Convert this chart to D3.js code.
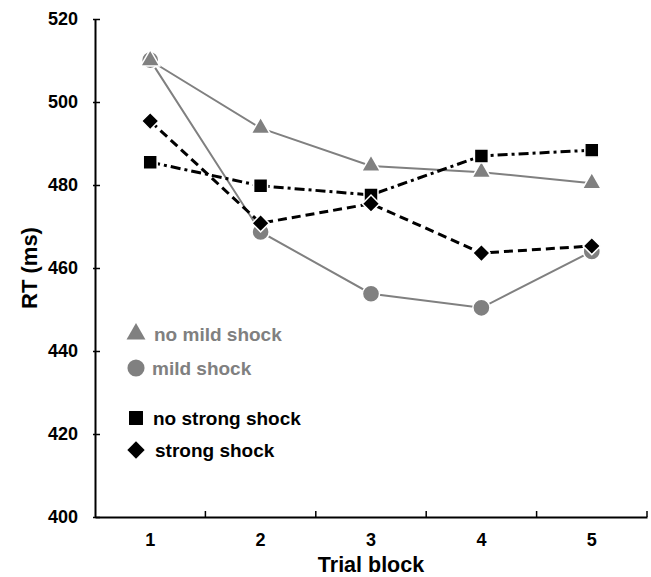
<!DOCTYPE html>
<html>
<head>
<meta charset="utf-8">
<script src="https://cdn.jsdelivr.net/npm/d3@7"></script>
<style>
	body { margin: 0; background: #fff; }
	svg { display: block; font-family: Arial, "Liberation Sans", sans-serif; font-weight: bold; }
</style>
</head>
<body>
<div id="chart"></div>
<script>
const blocks = [1, 2, 3, 4, 5];
const yTicks = [400, 420, 440, 460, 480, 500, 520];

const noMildShock = [510.0, 493.7, 484.6, 483.1, 480.4];
const mildShock = [510.1, 468.7, 453.8, 450.4, 464.0];
const noStrongShock = [485.5, 479.8, 477.6, 487.0, 488.4];
const strongShock = [495.4, 470.8, 475.5, 463.6, 465.3];

const seriesNames = ['no mild shock', 'mild shock', 'no strong shock', 'strong shock'];

const gray = '#808080';

const width = 651, height = 577;
const margin = {left: 95, right: 4, top: 19, bottom: 60};

let svg = d3.select('#chart').append('svg')
	.attr('width', width)
	.attr('height', height);

let xScale = d3.scaleBand()
	.domain(blocks)
	.range([margin.left, width - margin.right])
	.padding(0);

let yScale = d3.scaleLinear()
	.domain([400, 520])
	.range([height - margin.bottom, margin.top]);

// y axis, ticks cross the line
let axisY = svg.append('g')
	.attr('transform', `translate(${margin.left},0)`)
	.call(d3.axisLeft(yScale).tickValues(yTicks).tickSizeInner(3).tickSizeOuter(0).tickPadding(14));
axisY.select('.domain').attr('stroke', '#000').attr('stroke-width', 2);
axisY.selectAll('.tick line').attr('x2', 5).attr('x1', -2).attr('stroke-width', 1.5);
axisY.selectAll('text').style('font-size', '18px').attr('fill', '#000');

// x axis, labels in band centres, ticks on band edges
let axisX = svg.append('g')
	.attr('transform', `translate(0,${yScale(400)})`)
	.call(d3.axisBottom(xScale).tickSize(0).tickPadding(16));
axisX.select('.domain').attr('stroke', '#000').attr('stroke-width', 2);
axisX.selectAll('text').style('font-size', '18px').attr('fill', '#000');
axisX.selectAll('.edge')
	.data(blocks)
	.enter().append('line')
	.attr('class', 'edge')
	.attr('x1', d => xScale(d) + xScale.bandwidth())
	.attr('x2', d => xScale(d) + xScale.bandwidth())
	.attr('y1', 0)
	.attr('y2', -6)
	.attr('stroke', '#000')
	.attr('stroke-width', 1.5);

svg.append('text')
	.attr('transform', `translate(37,${(margin.top + yScale(400)) / 2}) rotate(-90)`)
	.attr('text-anchor', 'middle')
	.style('font-size', '22px')
	.text('RT (ms)');

svg.append('text')
	.attr('x', (margin.left + width - margin.right) / 2)
	.attr('y', 572)
	.attr('text-anchor', 'middle')
	.style('font-size', '21.5px')
	.text('Trial block');

const cx = d => xScale(d) + xScale.bandwidth() / 2;

const series = [
	{name: seriesNames[0], values: noMildShock, color: gray, width: 2, dash: null, symbol: d3.symbolTriangle, size: 155, rotate: 0, order: 1},
	{name: seriesNames[1], values: mildShock, color: gray, width: 2, dash: null, symbol: d3.symbolCircle, size: 230, rotate: 0, order: 0},
	{name: seriesNames[2], values: noStrongShock, color: '#000', width: 3, dash: '10,4,3,4', symbol: d3.symbolSquare, size: 195, rotate: 0, order: 2},
	{name: seriesNames[3], values: strongShock, color: '#000', width: 3, dash: '9,5', symbol: d3.symbolSquare, size: 150, rotate: 45, order: 3}
];

let line = d3.line()
	.x((d, i) => cx(blocks[i]))
	.y(d => yScale(d));

series.forEach(s => {
	svg.append('path')
		.datum(s.values)
		.attr('d', line)
		.attr('fill', 'none')
		.attr('stroke', s.color)
		.attr('stroke-width', s.width)
		.attr('stroke-dasharray', s.dash);
});

// markers: circles under triangles, diamonds on top
series.slice().sort((a, b) => a.order - b.order).forEach(s => {
	svg.append('g').selectAll('path')
		.data(s.values)
		.enter().append('path')
		.attr('d', d3.symbol().type(s.symbol).size(s.size))
		.attr('transform', (d, i) => `translate(${cx(blocks[i])},${yScale(d)}) rotate(${s.rotate})`)
		.attr('fill', s.color)
		.attr('stroke', '#fff')
		.attr('stroke-width', 1.5);
});

// legend
const legendRows = [334, 368, 418, 450];
const legendTextX = [154, 152, 153, 155];
let legend = svg.append('g').selectAll('g')
	.data(series)
	.enter().append('g');

legend.append('path')
	.attr('d', s => d3.symbol().type(s.symbol).size(s.size)())
	.attr('transform', (s, i) => `translate(136,${legendRows[i]}) rotate(${s.rotate})`)
	.attr('fill', s => s.color);

legend.append('text')
	.attr('x', (s, i) => legendTextX[i])
	.attr('y', (s, i) => legendRows[i])
	.attr('dy', '.35em')
	.style('font-size', '19px')
	.attr('fill', s => s.color)
	.text(s => s.name);
</script>
</body>
</html>
